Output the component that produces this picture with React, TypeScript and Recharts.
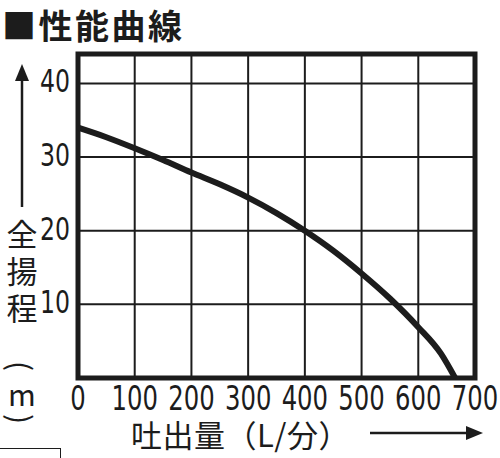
import { LineChart, Line, XAxis, YAxis, CartesianGrid, ReferenceArea } from 'recharts';

// 吐出量 (L/分) vs 全揚程 (m)
const flow = [0, 50, 100, 150, 200, 250, 300, 350, 400, 450, 500, 550, 600, 640, 665];
const head = [34, 32.7, 31.2, 29.6, 27.9, 26.3, 24.5, 22.4, 20.0, 17.3, 14.2, 10.8, 6.9, 3.3, 0];
const xTicks = [0, 100, 200, 300, 400, 500, 600, 700];
const yTicks = [10, 20, 30, 40];

const data = flow.map((q, i) => ({ q, h: head[i] }));

const INK = '#1c1c1c';
const NUM_FONT = '"Liberation Sans Narrow", "DejaVu Sans Condensed", Arial, sans-serif';
const JP_FONT = '"Noto Sans CJK JP", "Noto Sans CJK SC", sans-serif';

const XTick = ({ x, y, payload }: any) => (
  <text
    transform={`translate(${x},${y}) scale(0.82,1)`}
    textAnchor="middle"
    dominantBaseline="hanging"
    fontFamily={NUM_FONT}
    fontSize={33}
    fill={INK}
  >
    {payload.value}
  </text>
);

const YTick = ({ x, y, payload }: any) => (
  <text
    transform={`translate(${x},${y}) scale(0.82,1)`}
    textAnchor="end"
    dy={9}
    fontFamily={NUM_FONT}
    fontSize={32}
    fill={INK}
  >
    {payload.value}
  </text>
);

const rotated = (ch: string, top: number) => (
  <div
    style={{
      position: 'absolute', left: 7, top, width: 30, height: 30, fontFamily: JP_FONT, fontSize: 30,
      lineHeight: '30px', color: INK, textAlign: 'center', transform: 'rotate(90deg)',
    }}
  >
    {ch}
  </div>
);

export default function App() {
  return (
    <div style={{ position: 'absolute', left: 0, top: 0, width: 500, height: 458, background: '#fff', overflow: 'hidden' }}>
      {/* title */}
      <div
        style={{
          position: 'absolute', left: 2, top: 0, fontFamily: JP_FONT, fontWeight: 700,
          fontSize: 34, color: INK, whiteSpace: 'nowrap', letterSpacing: 2.5,
        }}
      >
        ■性能曲線
      </div>

      <LineChart width={500} height={458} data={data} margin={{ top: 54, right: 25, left: 38, bottom: 50 }}>
        <CartesianGrid stroke={INK} strokeWidth={2} horizontalValues={yTicks} verticalValues={xTicks} />
        <XAxis
          type="number"
          dataKey="q"
          domain={[0, 700]}
          ticks={xTicks}
          height={30}
          axisLine={false}
          tickLine={false}
          tickSize={0}
          tickMargin={7}
          tick={<XTick />}
          interval={0}
        />
        <YAxis
          type="number"
          domain={[0, 44]}
          ticks={yTicks}
          width={40}
          axisLine={false}
          tickLine={false}
          tickSize={0}
          tickMargin={8}
          tick={<YTick />}
          interval={0}
        />
        <ReferenceArea x1={0} x2={700} y1={0} y2={44} fill="none" stroke={INK} strokeWidth={5} ifOverflow="visible" />
        <Line
          type="monotone"
          dataKey="h"
          stroke={INK}
          strokeWidth={6}
          dot={false}
          isAnimationActive={false}
        />
      </LineChart>

      {/* axis arrows */}
      <svg width={500} height={458} style={{ position: 'absolute', left: 0, top: 0, pointerEvents: 'none' }}>
        <line x1={22} y1={78} x2={22} y2={207} stroke={INK} strokeWidth={2.5} />
        <polygon points="22,64 15,81 29,81" fill={INK} />
        <line x1={370} y1={433} x2={470} y2={433} stroke={INK} strokeWidth={2.5} />
        <polygon points="483,433 466,426 466,440" fill={INK} />
      </svg>

      {/* y-axis caption */}
      <div
        style={{
          position: 'absolute', left: 5, top: 214, width: 34, fontFamily: JP_FONT, fontSize: 31,
          lineHeight: '37px', color: INK, textAlign: 'center',
        }}
      >
        <div>全</div>
        <div>揚</div>
        <div>程</div>
      </div>
      {rotated('(', 351)}
      <div
        style={{
          position: 'absolute', left: 7, top: 380, width: 30, fontFamily: JP_FONT, fontSize: 30,
          lineHeight: '26px', color: INK, textAlign: 'center',
        }}
      >
        m
      </div>
      {rotated(')', 404)}

      {/* x-axis caption */}
      <div
        style={{
          position: 'absolute', left: 131, top: 418, fontFamily: JP_FONT, fontSize: 31,
          lineHeight: '32px', color: INK, whiteSpace: 'nowrap', letterSpacing: 0.5,
        }}
      >
        吐出量（L/分）
      </div>

      {/* stray box edge at lower left */}
      <div style={{ position: 'absolute', left: 0, top: 448, width: 60, height: 20, borderTop: `1.5px solid ${INK}`, borderRight: `1.5px solid ${INK}` }} />
    </div>
  );
}
